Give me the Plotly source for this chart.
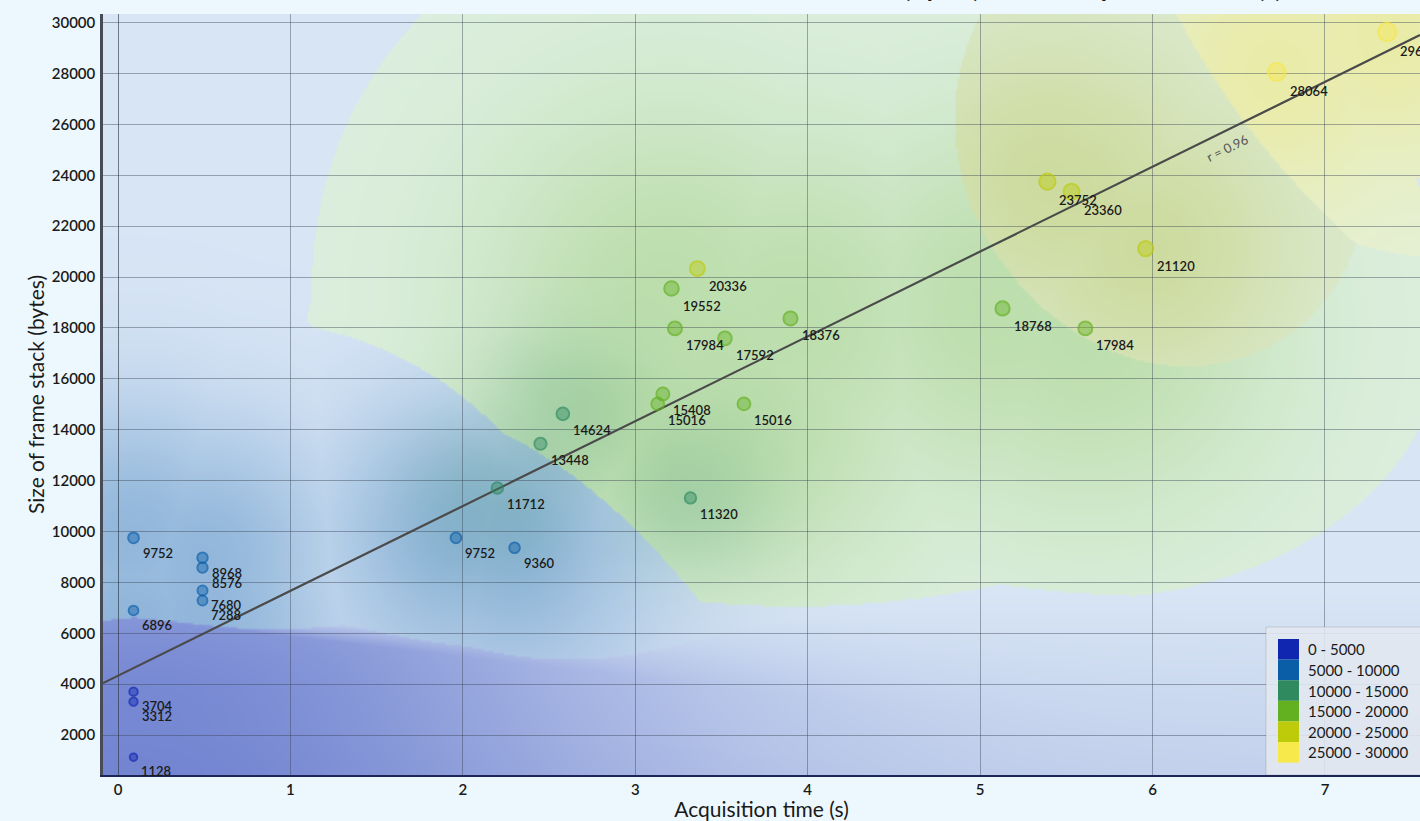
import base64
import struct
import zlib

import numpy as np
import plotly.graph_objects as go

# ---- data -------------------------------------------------------------
acq_time_s = [0.09, 0.09, 0.09, 0.09, 0.09, 0.49, 0.49, 0.49, 0.49, 1.96,
              2.30, 2.20, 2.45, 2.58, 3.32, 3.13, 3.16, 3.63, 3.21, 3.36,
              3.23, 3.52, 3.90, 5.13, 5.61, 5.39, 5.53, 5.96, 6.72, 7.36]
frame_stack_bytes = [9752, 6896, 3704, 3312, 1128, 8968, 8576, 7680, 7288, 9752,
                     9360, 11712, 13448, 14624, 11320, 15016, 15408, 15016, 19552, 20336,
                     17984, 17592, 18376, 18768, 17984, 23752, 23360, 21120, 28064, 29632]

bin_edges = [0, 5000, 10000, 15000, 20000, 25000, 30000]
bin_labels = ["0 - 5000", "5000 - 10000", "10000 - 15000",
              "15000 - 20000", "20000 - 25000", "25000 - 30000"]
bin_colors = ["#1026b0", "#0a5ea8", "#2f8a60", "#63b021", "#bdcb0a", "#f7e84b"]
# slightly muted versions used for the background wash
wash_colors = ["#1026b0", "#0a5ea8", "#2f8a60", "#63b021", "#aab628", "#f2e24e"]

trend_slope = 3335.0      # bytes per second
trend_intercept = 4330.0  # bytes
trend_r = 0.96

# ---- layout geometry --------------------------------------------------
FIG_W, FIG_H = 1420, 821
MARGIN = dict(l=103, r=0, t=14, b=46, pad=0)
PW = FIG_W - MARGIN["l"] - MARGIN["r"]
PH = FIG_H - MARGIN["t"] - MARGIN["b"]
X_RANGE = [-0.087, 7.551]
Y_RANGE = [428, 30342]
FONT = "Lato"

x = np.asarray(acq_time_s, float)
y = np.asarray(frame_stack_bytes, float)
cls = np.digitize(y, bin_edges[1:-1])


def hex_rgb(h):
    h = h.lstrip("#")
    return np.array([int(h[i:i + 2], 16) for i in (0, 2, 4)], float)


def rgba(h, a):
    r, g, b = hex_rgb(h).astype(int)
    return f"rgba({r},{g},{b},{a})"


def to_px(xv, yv):
    u = (np.asarray(xv) - X_RANGE[0]) / (X_RANGE[1] - X_RANGE[0]) * PW
    v = (Y_RANGE[1] - np.asarray(yv)) / (Y_RANGE[1] - Y_RANGE[0]) * PH
    return u, v


# ---- background influence field (screen-pixel space) -----------------
SCALE = 2
GW, GH = PW // SCALE, PH // SCALE
gu = (np.arange(GW) + 0.5) * PW / GW
gv = (np.arange(GH) + 0.5) * PH / GH
U, V = np.meshgrid(gu, gv)
pu, pv = to_px(x, y)
INF = 1e9


def members(c):
    return np.where(cls == c)[0]


def nearest_dist(c):
    d = np.full(U.shape, INF)
    for i in members(c):
        d = np.minimum(d, np.hypot(U - pu[i], V - pv[i]))
    return d


def kernel_sum(c, sigma):
    s = np.zeros(U.shape)
    for i in members(c):
        s += np.exp(-((U - pu[i]) ** 2 + (V - pv[i]) ** 2) / (2 * sigma ** 2))
    return s


d_near = {c: nearest_dist(c) for c in range(6)}

# cool classes: tint over a light blue ground that darkens to the bottom
ground_top = np.array([216, 229, 245], float)
ground_bot = np.array([195, 209, 236], float)
t = np.clip((V - 576) / 185, 0, 1)[..., None]
ground = ground_top * (1 - t) + ground_bot * t

a0 = np.zeros(U.shape)
q0 = np.full(U.shape, INF)
reach = 77
for i in members(0):
    du = U - pu[i]
    dv = V - pv[i]
    soft = 3 + np.abs(du) * 0.12
    ramp = np.clip((dv + reach) / soft, 0, 1)
    a0 = np.maximum(a0, np.exp(-du ** 2 / (2 * 360 ** 2) - dv ** 2 / (2 * 170 ** 2)) * ramp)
    q0 = np.minimum(q0, np.sqrt((du / 1300) ** 2 + (dv / 150) ** 2))
a0 *= 0.45
a1 = 0.34 * np.exp(-d_near[1] ** 2 / (2 * 100 ** 2))
q1 = d_near[1] / 260

use0 = (a0 * 0.9 > a1)
a_cool = np.where(use0, a0, a1)[..., None]
col_cool = np.where(use0[..., None], hex_rgb(wash_colors[0]), hex_rgb(wash_colors[1]))
img = ground * (1 - a_cool) + col_cool * a_cool

# warm classes 3..5: tinted regions with crisp outer edges
q3 = np.full(U.shape, INF)
for i in members(3):
    du = (U - pu[i]) / 360
    dvr = V - pv[i]
    dv = np.where(dvr < 0, dvr / 380, dvr / 270)
    q3 = np.minimum(q3, np.hypot(du, dv))
q4 = d_near[4] / 230
q5 = d_near[5] / 150
q_warm = np.minimum(q3, np.minimum(q4, q5))
warm_mask = (q_warm < 1) & (q_warm < np.minimum(q0, q1))

score = np.stack([kernel_sum(3, 200) * 1.0,
                  kernel_sum(4, 120) * 2.0,
                  kernel_sum(5, 110) * 1.6])
win = np.argmax(score, axis=0) + 3
warm_ground = np.array([227, 242, 233], float)
amin = {3: 0.05, 4: 0.12, 5: 0.12}
amax = {3: 0.30, 4: 0.38, 5: 0.42}
sig_a = {3: 140, 4: 110, 5: 100}
for c in (3, 4, 5):
    m = warm_mask & (win == c)
    a = amin[c] + (amax[c] - amin[c]) * np.exp(-d_near[c] ** 2 / (2 * sig_a[c] ** 2))
    layer = warm_ground * (1 - a[..., None]) + hex_rgb(wash_colors[c]) * a[..., None]
    img[m] = layer[m]

# soft teal halos laid over whatever lies beneath
halo = np.zeros(U.shape)
for i in members(2):
    halo = np.maximum(halo, np.exp(-((U - pu[i]) ** 2 + (V - pv[i]) ** 2) / (2 * 60 ** 2)))
a2 = (0.20 * halo)[..., None]
img = img * (1 - a2) + hex_rgb(wash_colors[2]) * a2

img = np.clip(np.round(img), 0, 255).astype(np.uint8)


def png_uri(rgb):
    h, w, _ = rgb.shape
    raw = b"".join(b"\x00" + rgb[r].tobytes() for r in range(h))

    def chunk(tag, data):
        return (struct.pack(">I", len(data)) + tag + data
                + struct.pack(">I", zlib.crc32(tag + data) & 0xFFFFFFFF))

    png = (b"\x89PNG\r\n\x1a\n"
           + chunk(b"IHDR", struct.pack(">IIBBBBB", w, h, 8, 2, 0, 0, 0))
           + chunk(b"IDAT", zlib.compress(raw, 9))
           + chunk(b"IEND", b""))
    return "data:image/png;base64," + base64.b64encode(png).decode()


# ---- figure -----------------------------------------------------------
fig = go.Figure()

tx = np.array(X_RANGE)
fig.add_trace(go.Scatter(x=tx, y=trend_intercept + trend_slope * tx, mode="lines",
                         line=dict(color="#4a4a4a", width=2.2),
                         hoverinfo="skip", showlegend=False))

sizes = 7 + y / 2600
for c in range(6):
    m = cls == c
    fig.add_trace(go.Scatter(
        x=x[m], y=y[m], mode="markers", showlegend=False,
        marker=dict(size=sizes[m], color=rgba(bin_colors[c], 0.6),
                    line=dict(color=bin_colors[c], width=2)),
        hovertemplate="%{x} s<br>%{y} bytes<extra></extra>"))

annotations = []
for xi, yi, si in zip(x, y, sizes):
    r = si / 2 + 1
    annotations.append(dict(x=xi, y=yi, text=str(int(yi)), showarrow=False,
                            xanchor="left", yanchor="middle",
                            xshift=r + 1, yshift=-(r + 9),
                            font=dict(family=FONT, size=13, color="#1a1a1a", weight=600)))

angle = -np.degrees(np.arctan(trend_slope * PH / (Y_RANGE[1] - Y_RANGE[0])
                              / (PW / (X_RANGE[1] - X_RANGE[0]))))
rx = 6.42
annotations.append(dict(x=rx, y=trend_intercept + trend_slope * rx,
                        text=f"r = {trend_r:.2f}", showarrow=False,
                        textangle=angle, yshift=-17, xshift=2,
                        font=dict(family=FONT, size=13, color="#555555")))

shapes = []


def px2paper(px, py):
    return (px - MARGIN["l"]) / PW, (FIG_H - MARGIN["b"] - py) / PH


lx0, ly0 = px2paper(1266, 627)
lx1, ly1 = px2paper(1440, 775)
shapes.append(dict(type="rect", xref="paper", yref="paper", x0=lx0, x1=lx1, y0=ly1, y1=ly0,
                   fillcolor="rgba(226,232,240,0.88)", line=dict(color="rgba(0,0,0,0.12)", width=1),
                   layer="above"))
row_h = 20.6
for k, (lab, col) in enumerate(zip(bin_labels, bin_colors)):
    top = 639 + k * row_h
    sx0, sy0 = px2paper(1278, top)
    sx1, sy1 = px2paper(1299, top + row_h)
    shapes.append(dict(type="rect", xref="paper", yref="paper", x0=sx0, x1=sx1, y0=sy1, y1=sy0,
                       fillcolor=col, line=dict(width=0), layer="above"))
    tx0, ty0 = px2paper(1306, top + row_h / 2)
    annotations.append(dict(x=tx0, y=ty0, xref="paper", yref="paper", text=lab,
                            showarrow=False, xanchor="left", yanchor="middle",
                            font=dict(family=FONT, size=15, color="#1a1a1a")))

# chart title sitting above the plot, mostly beyond the top edge of the page
ttx, tty = px2paper(1284, 5)
annotations.append(dict(x=ttx, y=tty, xref="paper", yref="paper",
                        text="Size of frame stack (bytes) versus acquisition time (s)",
                        showarrow=False, xanchor="right", yanchor="bottom",
                        font=dict(family=FONT, size=26, weight=700, color="#1a1a1a")))

shapes.append(dict(type="line", xref="paper", yref="y", x0=0, x1=1, y0=20000, y1=20000,
                   line=dict(color="rgba(50,60,70,0.45)", width=1.2), layer="between"))

fig.update_layout(
    width=FIG_W, height=FIG_H, margin=MARGIN,
    paper_bgcolor="#ecf8fd", plot_bgcolor="#d9e6f5",
    font=dict(family=FONT, color="#1a1a1a"),
    images=[dict(source=png_uri(img), xref="x", yref="y", x=X_RANGE[0], y=Y_RANGE[1],
                 sizex=X_RANGE[1] - X_RANGE[0], sizey=Y_RANGE[1] - Y_RANGE[0],
                 sizing="stretch", xanchor="left", yanchor="top", layer="below")],
    shapes=shapes,
    annotations=annotations,
    xaxis=dict(range=X_RANGE, dtick=1, tick0=0, showgrid=True,
               gridcolor="rgba(55,65,80,0.42)", gridwidth=1,
               zeroline=True, zerolinecolor="rgba(40,48,60,0.6)", zerolinewidth=1.2,
               showline=True, linecolor="#1c2658", linewidth=2,
               ticks="", tickfont=dict(family=FONT, size=15, weight=600, color="#1a1a1a"),
               title=dict(text="Acquisition time (s)", standoff=6,
                          font=dict(family=FONT, size=21, color="#1a1a1a"))),
    yaxis=dict(range=Y_RANGE, dtick=2000, tick0=0, tickformat="d", showgrid=True,
               gridcolor="rgba(55,65,80,0.42)", gridwidth=1, zeroline=False,
               showline=True, linecolor="#464b56", linewidth=2.5,
               ticks="", ticklabelstandoff=2,
               tickfont=dict(family=FONT, size=15, weight=600, color="#1a1a1a"),
               title=dict(text="Size of frame stack (bytes)", standoff=2,
                          font=dict(family=FONT, size=21, color="#1a1a1a"))),
)

fig.write_html("out.html")
